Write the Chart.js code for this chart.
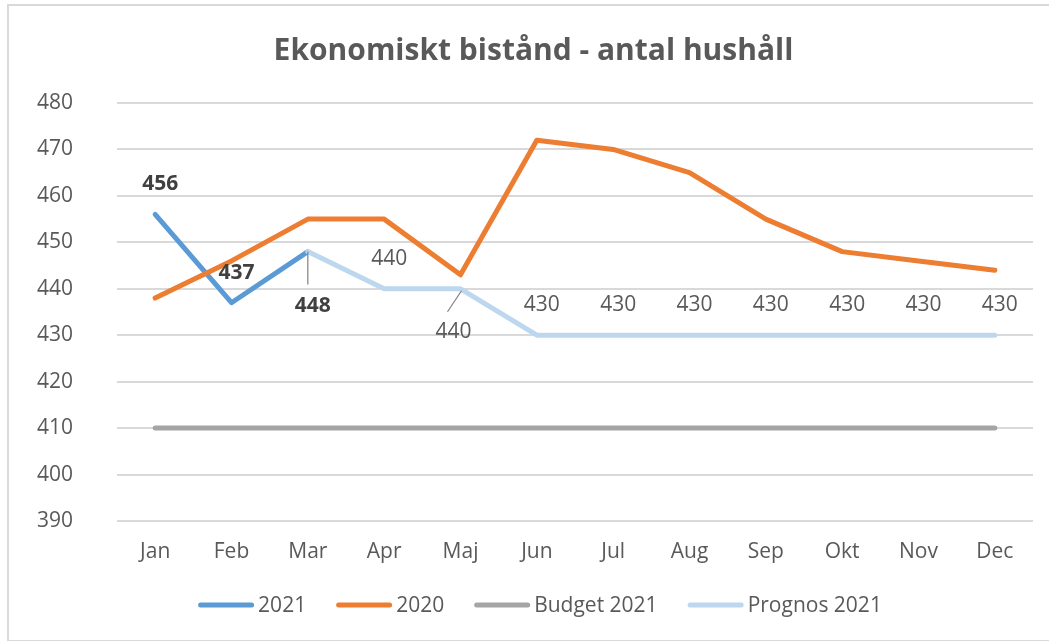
<!DOCTYPE html>
<html>
<head>
<meta charset="utf-8">
<script src="https://cdn.jsdelivr.net/npm/chart.js@4.4.0/dist/chart.umd.min.js"></script>
<style>
  html, body { margin: 0; padding: 0; background: #ffffff; overflow: hidden; }
  #wrap { position: relative; width: 1049px; height: 641px; }
  canvas { display: block; }
</style>
</head>
<body>
<div id="wrap"><canvas id="chart" width="1049" height="641"></canvas></div>
<script>
// Months on the category axis
const months = ['Jan', 'Feb', 'Mar', 'Apr', 'Maj', 'Jun', 'Jul', 'Aug', 'Sep', 'Okt', 'Nov', 'Dec'];

// Households receiving financial assistance, per month
const values2021   = [456, 437, 448, null, null, null, null, null, null, null, null, null];
const values2020   = [438, 446, 455, 455, 443, 472, 470, 465, 455, 448, 446, 444];
const budget2021   = [410, 410, 410, 410, 410, 410, 410, 410, 410, 410, 410, 410];
const prognos2021  = [null, null, 448, 440, 440, 430, 430, 430, 430, 430, 430, 430];

// Value axis
const yMin = 390;
const yMax = 480;
const yStep = 10;

const seriesNames = ['2021', '2020', 'Budget 2021', 'Prognos 2021'];
const seriesColors = ['#5B9BD5', '#ED7D31', '#A5A5A5', '#BDD7EE'];

const FONT = '"Open Sans", "DejaVu Sans", sans-serif';
const TEXT = '#595959';

// Which points carry a value label, and how each label sits relative to its point
const labelStyle = {
  0: { bold: true, color: '#404040', points: [0, 1, 2] },
  3: { bold: false, color: '#595959', points: [3, 4, 5, 6, 7, 8, 9, 10, 11] }
};
const labelOffsets = {
  '0-2': { dx: 5, dy: 53, leader: [0, 0, 0, 33] },
  '3-4': { dx: -7, dy: 42, leader: [1, 2, -13, 23] }
};
const defaultOffset = { dx: 5, dy: -31 };

const frame = {
  id: 'frame',
  beforeDraw(chart) {
    const ctx = chart.ctx;
    ctx.save();
    ctx.fillStyle = '#ffffff';
    ctx.fillRect(0, 0, chart.width, chart.height);
    ctx.strokeStyle = '#d9d9d9';
    ctx.lineWidth = 2;
    ctx.strokeRect(8, 5, 1060, 636);
    ctx.restore();
  }
};

const valueLabels = {
  id: 'valueLabels',
  afterDatasetsDraw(chart) {
    const ctx = chart.ctx;
    ctx.save();
    Object.keys(labelStyle).forEach(k => {
      const di = Number(k);
      const st = labelStyle[k];
      const meta = chart.getDatasetMeta(di);
      const data = chart.data.datasets[di].data;
      st.points.forEach(i => {
        const v = data[i];
        if (v == null) return;
        const el = meta.data[i];
        const off = labelOffsets[di + '-' + i] || defaultOffset;
        if (off.leader) {
          const [x1, y1, x2, y2] = off.leader;
          ctx.beginPath();
          ctx.strokeStyle = '#808080';
          ctx.lineWidth = 1.2;
          ctx.moveTo(el.x + x1, el.y + y1);
          ctx.lineTo(el.x + x2, el.y + y2);
          ctx.stroke();
        }
        ctx.font = (st.bold ? 'bold ' : '') + '21px ' + FONT;
        ctx.fillStyle = st.color;
        ctx.textAlign = 'center';
        ctx.textBaseline = 'middle';
        ctx.fillText(String(v), el.x + off.dx, el.y + off.dy + 1);
      });
    });
    ctx.restore();
  }
};

const lineLegend = {
  id: 'lineLegend',
  afterDraw(chart) {
    const ctx = chart.ctx;
    ctx.save();
    ctx.font = '21px ' + FONT;
    const sample = 56, gap = 4, spacing = 30, cy = 605, centerX = 540;
    const items = chart.data.datasets.map(ds => ({ text: ds.label, color: ds.borderColor, w: ctx.measureText(ds.label).width }));
    const total = items.reduce((s, it) => s + sample + gap + it.w, 0) + spacing * (items.length - 1);
    let x = centerX - total / 2;
    items.forEach(it => {
      ctx.beginPath();
      ctx.strokeStyle = it.color;
      ctx.lineWidth = 5;
      ctx.lineCap = 'round';
      ctx.moveTo(x + 2.5, cy);
      ctx.lineTo(x + sample - 2.5, cy);
      ctx.stroke();
      ctx.fillStyle = TEXT;
      ctx.textAlign = 'left';
      ctx.textBaseline = 'middle';
      ctx.fillText(it.text, x + sample + gap, cy + 1);
      x += sample + gap + it.w + spacing;
    });
    ctx.restore();
  }
};

function lineSeries(i, data, order) {
  return {
    label: seriesNames[i],
    data: data,
    borderColor: seriesColors[i],
    backgroundColor: seriesColors[i],
    borderWidth: 5,
    pointRadius: 0,
    pointHoverRadius: 0,
    tension: 0,
    borderCapStyle: 'round',
    borderJoinStyle: 'round',
    spanGaps: false,
    fill: false,
    order: order
  };
}

new Chart(document.getElementById('chart'), {
  type: 'line',
  data: {
    labels: months,
    datasets: [
      lineSeries(0, values2021, 3),
      lineSeries(1, values2020, 2),
      lineSeries(2, budget2021, 1),
      lineSeries(3, prognos2021, 0)
    ]
  },
  options: {
    responsive: false,
    animation: false,
    devicePixelRatio: 1,
    layout: { padding: { left: 34, right: 16, top: 0, bottom: 70 } },
    plugins: {
      legend: { display: false },
      tooltip: { enabled: false },
      title: {
        display: true,
        text: 'Ekonomiskt bistånd - antal hushåll',
        color: TEXT,
        font: { family: FONT, size: 30, weight: 'bold' },
        padding: { top: 33, bottom: 34 }
      }
    },
    scales: {
      x: {
        offset: true,
        grid: { display: false, drawTicks: false },
        border: { display: false },
        ticks: { color: TEXT, font: { family: FONT, size: 21 }, padding: 18, maxRotation: 0, autoSkip: false },
        afterFit(scale) { scale.height = 50; }
      },
      y: {
        min: yMin,
        max: yMax,
        grid: { color: '#d9d9d9', lineWidth: 2, drawTicks: false },
        border: { display: false },
        ticks: { stepSize: yStep, color: TEXT, font: { family: FONT, size: 21 }, padding: 44 },
        afterFit(scale) { scale.width = 83; }
      }
    }
  },
  plugins: [frame, valueLabels, lineLegend]
});
</script>
</body>
</html>
